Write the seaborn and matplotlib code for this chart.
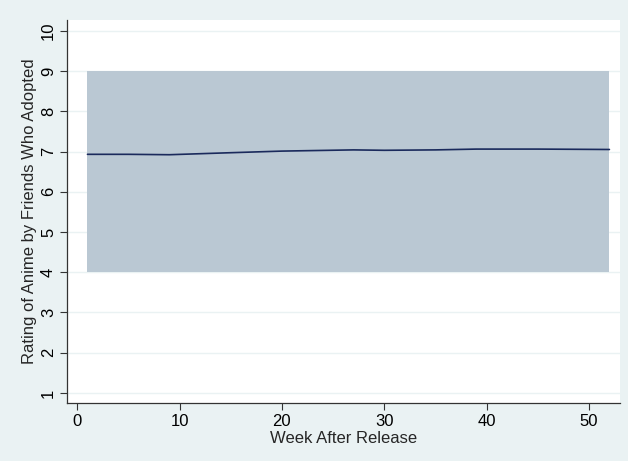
import matplotlib
matplotlib.use("Agg")
import matplotlib.pyplot as plt
import seaborn as sns
import pandas as pd

weeks = [1, 5, 9, 15, 20, 27, 30, 35, 39, 45, 52]
rating = [6.93, 6.93, 6.92, 6.97, 7.01, 7.04, 7.03, 7.04, 7.06, 7.06, 7.05]
band_weeks = [1, 52]
band_low = [4, 4]
band_high = [9, 9]
xticks = [0, 10, 20, 30, 40, 50]
yticks = [1, 2, 3, 4, 5, 6, 7, 8, 9, 10]

sns.set_style("white")
plt.rcParams['font.family'] = ['Liberation Sans', 'DejaVu Sans']

bg = "#EAF2F3"
fig = plt.figure(figsize=(6.28, 4.61), dpi=100, facecolor=bg)
ax = fig.add_axes([0.1067, 0.1258, 0.880, 0.831])
ax.set_facecolor("white")

for y in yticks:
    ax.axhline(y, color=bg, lw=1.0, zorder=0)

ax.fill_between(band_weeks, band_low, band_high, color="#BAC8D3", lw=0, zorder=1)
df = pd.DataFrame({"week": weeks, "rating": rating})
sns.lineplot(data=df, x="week", y="rating", ax=ax, color="#1A2A5C", lw=1.2, zorder=2)

ax.set_xlim(-1, 53.0)
ax.set_ylim(0.75, 10.27)
ax.set_xticks(xticks)
ax.set_yticks(yticks)
ax.set_yticklabels([str(v) for v in yticks], rotation=90, va="center")
ax.tick_params(axis="both", which="both", direction="out", length=5, width=0.8,
               color="#333333", labelsize=12, labelcolor="black", left=True, bottom=True, pad=3)
for s in ["top", "right"]:
    ax.spines[s].set_visible(False)
for s in ["left", "bottom"]:
    ax.spines[s].set_color("#333333")
    ax.spines[s].set_linewidth(0.9)

ax.set_xlabel("Week After Release", fontsize=12, labelpad=1)
ax.set_ylabel("Rating of Anime by Friends Who Adopted", fontsize=12, labelpad=3)

fig.savefig("out.png", dpi=100, facecolor=bg)
